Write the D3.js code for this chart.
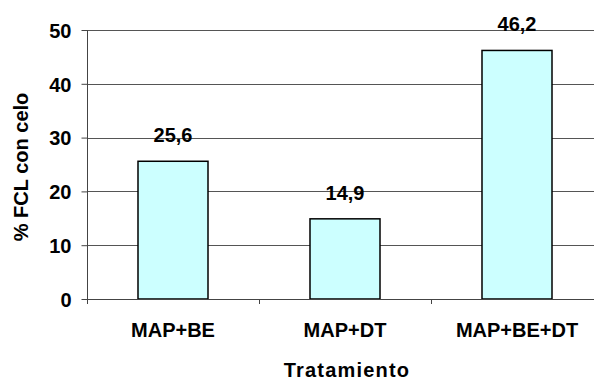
<!DOCTYPE html>
<html>
<head>
<meta charset="utf-8">
<script src="https://cdn.jsdelivr.net/npm/d3@7"></script>
<style>
  body { margin: 0; background: #fff; }
  text { font-family: "Liberation Sans", Arial, sans-serif; font-weight: bold; fill: #000; }
</style>
</head>
<body>
<div id="chart"></div>
<script>
// data
const categories = ['MAP+BE', 'MAP+DT', 'MAP+BE+DT'];
const values = [25.6, 14.9, 46.2];
const valueLabels = ['25,6', '14,9', '46,2'];
const yTicks = [0, 10, 20, 30, 40, 50];

const width = 594, height = 380;
const plot = {left: 87, right: 603, top: 30, bottom: 299};

const svg = d3.select('#chart').append('svg')
    .attr('width', width)
    .attr('height', height);

const x = d3.scaleBand()
    .domain(categories)
    .range([plot.left, plot.right])
    .paddingInner(0.593)
    .paddingOuter(0.2965);

const y = d3.scaleLinear()
    .domain([0, 50])
    .range([plot.bottom, plot.top]);

// gridlines
svg.append('g')
  .selectAll('line')
  .data(yTicks.filter(d => d > 0))
  .join('line')
    .attr('x1', plot.left)
    .attr('x2', width)
    .attr('y1', d => Math.round(y(d)) + 0.5)
    .attr('y2', d => Math.round(y(d)) + 0.5)
    .attr('stroke', '#555')
    .attr('stroke-width', 1);

// y axis
const yAxis = svg.append('g')
    .attr('transform', `translate(${plot.left + 0.5},0)`)
    .call(d3.axisLeft(y).tickValues(yTicks).tickSize(6).tickPadding(10))
    .call(g => g.select('.domain').remove());
yAxis.selectAll('.tick line').attr('stroke', '#444');
yAxis.selectAll('.tick text')
    .style('font-size', '20px')
    .style('font-family', '"Liberation Sans", Arial, sans-serif')
    .style('font-weight', 'bold')
    .attr('dy', '0.36em');
svg.append('line')
    .attr('x1', plot.left + 0.5).attr('x2', plot.left + 0.5)
    .attr('y1', plot.top).attr('y2', plot.bottom + 5)
    .attr('stroke', '#444');

// bars
svg.append('g')
  .selectAll('rect')
  .data(categories)
  .join('rect')
    .attr('x', d => x(d))
    .attr('y', (d, i) => y(values[i]))
    .attr('width', x.bandwidth())
    .attr('height', (d, i) => y(0) - y(values[i]))
    .attr('fill', '#ccffff')
    .attr('stroke', '#000')
    .attr('stroke-width', 1.5);

// x axis line and ticks between categories
svg.append('line')
    .attr('x1', plot.left)
    .attr('x2', width)
    .attr('y1', plot.bottom + 0.5)
    .attr('y2', plot.bottom + 0.5)
    .attr('stroke', '#444');
svg.append('g')
  .selectAll('line')
  .data(d3.range(1, categories.length))
  .join('line')
    .attr('x1', i => Math.round(plot.left + i * x.step()) + 0.5)
    .attr('x2', i => Math.round(plot.left + i * x.step()) + 0.5)
    .attr('y1', plot.bottom)
    .attr('y2', plot.bottom + 5)
    .attr('stroke', '#444');

// category labels
svg.append('g')
  .selectAll('text')
  .data(categories)
  .join('text')
    .attr('x', d => x(d) + x.bandwidth() / 2)
    .attr('y', 337)
    .attr('text-anchor', 'middle')
    .style('font-size', '20px')
    .text(d => d);

// value labels
svg.append('g')
  .selectAll('text')
  .data(categories)
  .join('text')
    .attr('x', d => x(d) + x.bandwidth() / 2)
    .attr('y', (d, i) => y(values[i]) - 19)
    .attr('text-anchor', 'middle')
    .style('font-size', '20px')
    .text((d, i) => valueLabels[i]);

// axis titles
svg.append('text')
    .attr('x', 347)
    .attr('y', 377)
    .attr('text-anchor', 'middle')
    .style('font-size', '20px')
    .style('letter-spacing', '1.2px')
    .text('Tratamiento');

svg.append('text')
    .attr('transform', 'translate(28,167) rotate(-90)')
    .attr('text-anchor', 'middle')
    .style('font-size', '20px')
    .text('% FCL con celo');
</script>
</body>
</html>
